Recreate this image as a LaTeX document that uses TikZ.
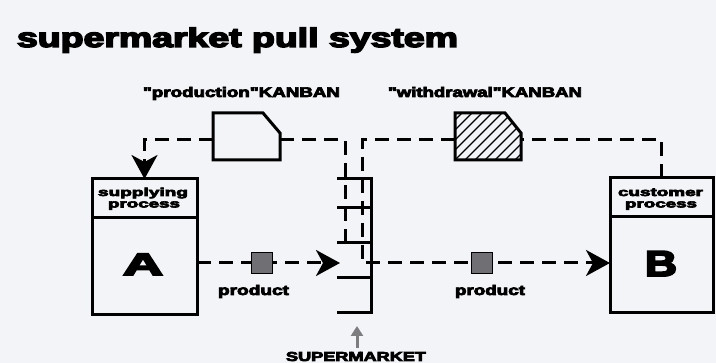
\documentclass[tikz,border=0pt]{standalone}
\usepackage{fontspec}
\usepackage{graphicx}
\usetikzlibrary{arrows.meta,calc}
\newfontfamily\hv{Liberation Sans}[BoldFont={* Bold}, BoldFeatures={FakeBold=5}]
\newcommand\fw[3]{\resizebox{#1pt}{\height}{\fontsize{#2}{#2}\selectfont\hv\bfseries #3}}
\definecolor{bg}{RGB}{243,244,247}
\definecolor{prod}{RGB}{112,112,116}
\definecolor{garrow}{RGB}{125,125,128}
\begin{document}
\begin{tikzpicture}[x=1pt,y=-1pt,
  lw/.style={line width=3pt},
  dsh/.style={lw, dash pattern=on 14pt off 8pt},
  box/.style={draw, lw, rectangle, inner sep=0pt, outer sep=0pt},
  txt/.style={inner sep=0pt, outer sep=0pt, anchor=base west},
  bigarrow/.style={-{Stealth[length=24pt,width=26pt,inset=7pt]}},
  prodsq/.style={draw, line width=1.5pt, fill=prod, minimum size=21pt, inner sep=0pt},
  kb/.style={inner sep=0pt, outer sep=0pt, minimum height=47pt}
]
\fill[bg] (0,0) rectangle (716,363);
\useasboundingbox (0,0) rectangle (716,363);

% texts
\node[txt] (title) at (17,47) {\fw{441}{27}{supermarket pull system}};
\node[txt] (tpk) at (143,97) {\fw{197}{14}{"production"KANBAN}};
\node[txt] (twk) at (388,97) {\fw{194}{14}{"withdrawal"KANBAN}};

% process boxes
\node[box, minimum width=105pt, minimum height=136pt] (sA) at (144.5,247) {};
\node[box, minimum width=103pt, minimum height=135pt] (sB) at (661.5,245.5) {};
\draw[lw] (sA.west |- 0,218) -- (sA.east |- 0,218);
\draw[lw] (sB.west |- 0,217) -- (sB.east |- 0,217);
\node[txt] (tsA1) at (98,196) {\fw{90}{11.5}{supplying}};
\node[txt] (tsA2) at (108,207.5) {\fw{72}{11.5}{process}};
\node[txt] (tsB1) at (618,196) {\fw{85}{11.5}{customer}};
\node[txt] (tsB2) at (625,207.5) {\fw{72}{11.5}{process}};
\node[txt] (lA) at (123,275) {\fw{40}{31}{A}};
\node[txt] (lB) at (645,276) {\fw{32}{36}{B}};

% kanbans
\node[kb, minimum width=67pt] (pk) at (246.5,136.5) {};
\node[kb, minimum width=66pt] (wk) at (488,136.5) {};
\begin{scope}
  \clip (wk.south west) -- (wk.north west) -- ($(wk.north east)+(-16,0)$) -- ($(wk.north east)+(0,20)$) -- (wk.south east) -- cycle;
  \foreach \i in {-60,-50,...,70} \draw[line width=1.4pt] ($(wk.south west)+(\i,0)$) -- ++(60,-60);
\end{scope}
\draw[lw, line join=miter] (pk.south west) -- (pk.north west) -- ($(pk.north east)+(-17,0)$) -- ($(pk.north east)+(0,20)$) -- (pk.south east) -- cycle;
\draw[lw, line join=miter] (wk.south west) -- (wk.north west) -- ($(wk.north east)+(-16,0)$) -- ($(wk.north east)+(0,20)$) -- (wk.south east) -- cycle;

% supermarket shelves
\coordinate (s1) at (337,179);
\coordinate (s2) at (337,208);
\coordinate (s3) at (337,243);
\coordinate (s4) at (337,278);
\coordinate (s5) at (337,313);
\coordinate (sv) at (371,177);
\draw[lw] (s1) -- (s1 -| sv) (sv) -- (s5 -| sv) -- (s5);
\foreach \s in {s2,s3,s4} \draw[lw] (\s) -- (\s -| sv);

% kanban loops
\coordinate (ky) at (0,140);
\coordinate (pa) at (345,243);
\coordinate (pb) at (345,140);
\coordinate (wa) at (362,140);
\coordinate (wb) at (362,263);
\coordinate (tipA) at (340,263);
\draw[dsh] (pa) -- (pb) -- (pk.east |- ky);
\draw[dsh, bigarrow] (pk.west |- ky) -- (sA.north |- ky) -- (sA.north);
\draw[dsh] (sB.north) -- (sB.north |- ky) -- (wk.east |- ky);
\draw[dsh, bigarrow] (wk.west |- ky) -- (wa) -- (wb) -- (sB.west |- wb);

% product flow from A
\draw[dsh, bigarrow] (sA.east |- tipA) -- (tipA);

% products
\node[prodsq] (p1) at (262,263) {};
\node[prodsq] (p2) at (482,263) {};
\node[txt] (tp1) at (218,295) {\fw{71}{14}{product}};
\node[txt] (tp2) at (455,295) {\fw{70}{14}{product}};

% supermarket label
\coordinate (ga) at (357,348);
\coordinate (gb) at (357,326);
\draw[garrow, line width=3pt, -{Triangle[length=10pt,width=12pt]}] (ga) -- (gb);
\node[txt] (tsm) at (286,361) {\fw{140}{13}{SUPERMARKET}};
\end{tikzpicture}
\end{document}
